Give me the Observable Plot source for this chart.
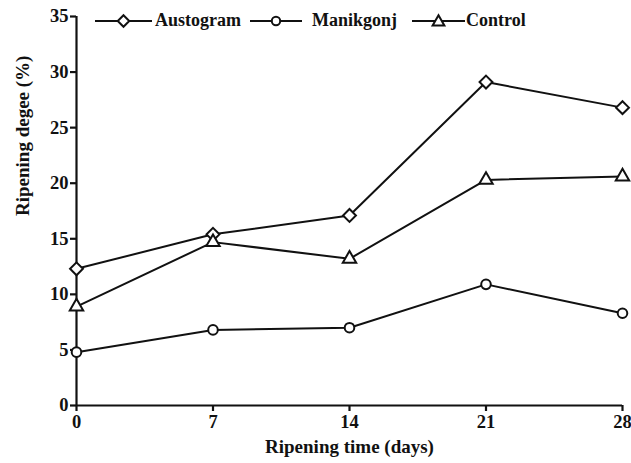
<!DOCTYPE html>
<html>
<head>
<meta charset="utf-8">
<script src="https://cdn.jsdelivr.net/npm/d3@7"></script>
<script src="https://cdn.jsdelivr.net/npm/@observablehq/plot@0.6"></script>
<style>
  html, body { margin: 0; padding: 0; background: #fff; }
  #wrap { position: relative; width: 631px; height: 463px; font-family: "Liberation Serif", "Times New Roman", serif; }
  #wrap svg text { font-family: "Liberation Serif", "Times New Roman", serif !important; font-weight: bold; }
  #legend { position: absolute; top: 10px; left: 0; width: 631px; height: 22px; font-size: 18px; font-weight: bold; color: #111; font-family: "Liberation Serif", "Times New Roman", serif; }
  #legend .item { position: absolute; top: 0; display: flex; align-items: center; white-space: nowrap; }
  #legend svg { display: block; }
</style>
</head>
<body>
<div id="wrap"></div>
<script>
const days = [0, 7, 14, 21, 28];
const austogram = [12.3, 15.4, 17.1, 29.1, 26.8];
const manikgonj = [4.8, 6.8, 7.0, 10.9, 8.3];
const control = [8.9, 14.7, 13.2, 20.3, 20.6];
const seriesNames = ["Austogram", "Manikgonj", "Control"];
const yTicks = [0, 5, 10, 15, 20, 25, 30, 35];

const seriesValues = [austogram, manikgonj, control];
const symbols = ["diamond2", "circle", "triangle2"];
const radii = [5.8, 4.8, 6.4];
const legendRadii = [5.2, 4.2, 5.6];

const data = seriesNames.flatMap((name, i) => days.map((d, j) => ({series: name, day: d, value: seriesValues[i][j]})));

const ink = "#111";
const font = "'Liberation Serif', 'Times New Roman', serif";
const marks = [
  Plot.ruleX([0], {y1: 0, y2: 35, stroke: ink, strokeWidth: 2.2}),
  Plot.ruleY([0], {x1: 0, x2: 28, stroke: ink, strokeWidth: 2.2}),
  Plot.axisY({ticks: yTicks, tickSize: 6, tickPadding: 2, label: null, fontSize: 18.5, fontWeight: "bold", fontFamily: font, stroke: ink, strokeWidth: 2.2, fill: ink}),
  Plot.axisX({ticks: days, tickSize: 6, tickPadding: 3, label: null, fontSize: 18.5, fontWeight: "bold", fontFamily: font, stroke: ink, strokeWidth: 2.2, fill: ink}),
  Plot.line(data, {x: "day", y: "value", z: "series", stroke: ink, strokeWidth: 2})
];
seriesNames.forEach((name, i) => {
  marks.push(Plot.dot(data.filter(d => d.series === name), {
    x: "day", y: "value", symbol: () => symbols[i], r: radii[i],
    fill: "white", stroke: ink, strokeWidth: 2
  }));
});
marks.push(Plot.text(["Ripening time (days)"], {frameAnchor: "bottom", dy: 47, fontSize: 19, fontWeight: "bold", fontFamily: font, fill: ink}));
marks.push(Plot.text(["Ripening degee (%)"], {frameAnchor: "left", dx: -54, dy: 5, rotate: -90, fontSize: 19, fontWeight: "bold", fontFamily: font, fill: ink}));

const chart = Plot.plot({
  width: 631,
  height: 463,
  marginLeft: 76,
  marginRight: 9,
  marginTop: 16,
  marginBottom: 58,
  style: {fontFamily: font, background: "white", color: ink, overflow: "visible"},
  x: {domain: [0, 28]},
  y: {domain: [0, 35]},
  marks
});
const wrap = document.getElementById("wrap");
wrap.appendChild(chart);

// legend (inside plot area, top)
const legend = document.createElement("div");
legend.id = "legend";
const symTypes = {diamond2: d3.symbolDiamond2, circle: d3.symbolCircle, triangle2: d3.symbolTriangle2};
const itemLeft = [95, 250, 412];
const lineW = [57, 52, 53];
const textGap = [3, 10, 1];
seriesNames.forEach((name, i) => {
  const item = document.createElement("div");
  item.className = "item";
  item.style.left = itemLeft[i] + "px";
  const w = lineW[i];
  const path = d3.symbol(symTypes[symbols[i]], Math.PI * legendRadii[i] * legendRadii[i])();
  item.innerHTML = `<svg width="${w}" height="20" viewBox="0 0 ${w} 20" style="margin-right:${textGap[i]}px"><line x1="0" x2="${w}" y1="10" y2="10" stroke="${ink}" stroke-width="2"/><path transform="translate(${w/2},${i === 2 ? 11 : 10})" d="${path}" fill="white" stroke="${ink}" stroke-width="2"/></svg><span>${name}</span>`;
  legend.appendChild(item);
});
wrap.appendChild(legend);
</script>
</body>
</html>
